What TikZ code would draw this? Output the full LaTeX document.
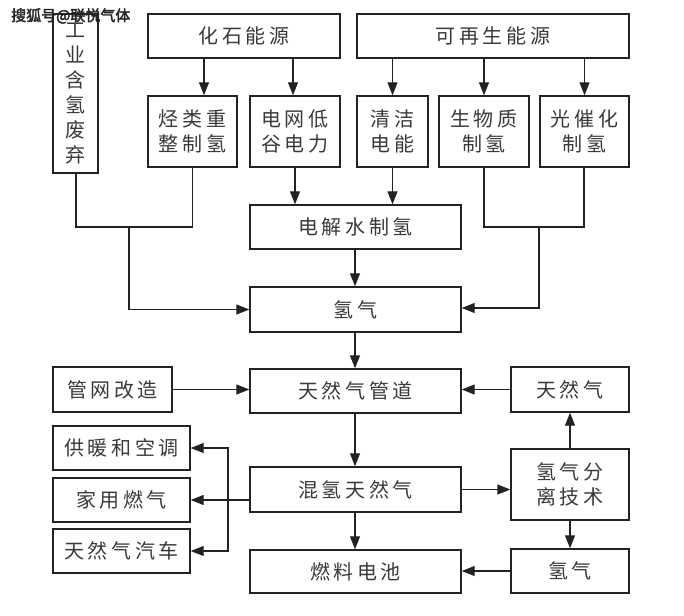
\documentclass[tikz,border=0pt]{standalone}
\usepackage{fontspec}
\setmainfont{Noto Sans CJK SC}
\newfontfamily\cjk[LetterSpace=18]{Noto Sans CJK SC}
\newfontfamily\wmfont[FakeBold=2.5]{Noto Sans CJK SC}
\usetikzlibrary{arrows.meta}
\definecolor{ink}{HTML}{222222}
\definecolor{txt}{HTML}{3A3A3A}
\tikzset{
  x=1pt,y=-1pt,
  box/.style={draw=ink,line width=1.4pt,inner sep=0pt,align=center,
    text=txt,font=\cjk\fontsize{20}{25}\selectfont},
  conn/.style={draw=ink,line width=1.2pt},
  arr/.style={conn,-{Triangle[length=13pt,width=10pt]}},
}
\newcommand{\bx}[7]{% name, x1, x2, y1, y2, text
  \node[box,minimum width={#3-#2},minimum height={#5-#4}] (#1) at ({(#2+#3)/2},{(#4+#5)/2}) {#6};}
\begin{document}
\begin{tikzpicture}
\useasboundingbox[fill=white] (0,0) rectangle (684,615);
% top row
\bx{gy}{53}{98}{14}{173}{工\\业\\含\\氢\\废\\弃}{}
\bx{hs}{148}{340}{14}{58}{化石能源}{}
\bx{kz}{357}{629}{14}{58}{可再生能源}{}
% second row
\bx{tl}{148}{237}{96}{167}{烃类重\\整制氢}{}
\bx{dw}{250}{340}{96}{167}{电网低\\谷电力}{}
\bx{qj}{357}{428}{96}{167}{清洁\\电能}{}
\bx{sw}{439}{529}{96}{167}{生物质\\制氢}{}
\bx{gc}{540}{629}{96}{167}{光催化\\制氢}{}
% middle column
\bx{dj}{250}{461}{205}{249}{电解水制氢}{}
\bx{qq}{250}{461}{287}{332}{氢气}{}
\bx{td}{250}{461}{369}{413}{天然气管道}{}
\bx{hq}{250}{461}{467}{512}{混氢天然气}{}
\bx{rl}{250}{461}{550}{593}{燃料电池}{}
% left column
\bx{gw}{53}{172}{367}{412}{管网改造}{}
\bx{gn}{53}{190}{426}{470}{供暖和空调}{}
\bx{jy}{53}{190}{478}{522}{家用燃气}{}
\bx{tc}{53}{190}{529}{573}{天然气汽车}{}
% right column
\bx{tr}{511}{629}{367}{412}{天然气}{}
\bx{fl}{511}{629}{449}{520}{氢气分\\离技术}{}
\bx{qr}{511}{629}{549}{593}{氢气}{}
% watermark
\node[anchor=west,inner sep=0pt,text=black!85,font=\wmfont\fontsize{15}{15}\selectfont] (wm) at (11,16) {搜狐号@联悦气体};
% arrows from top sources
\draw[arr] ([xshift=11.5pt]tl.north |- hs.south) -- ([xshift=11.5pt]tl.north);
\draw[arr] ([xshift=-2pt]dw.north |- hs.south) -- ([xshift=-2pt]dw.north);
\draw[arr] (qj.north |- kz.south) -- (qj.north);
\draw[arr] (sw.north |- kz.south) -- (sw.north);
\draw[arr] (gc.north |- kz.south) -- (gc.north);
% to electrolysis
\draw[arr] (dw.south) -- (dw.south |- dj.north);
\draw[arr] (qj.south) -- (qj.south |- dj.north);
\draw[arr] ([xshift=-0.5pt]dj.south) -- ([xshift=-0.5pt]qq.north);
% left merge
\coordinate (lm) at (129,227);
\draw[conn] ([xshift=0.5pt]gy.south) |- (lm) -| (tl.south);
\draw[arr] (lm) |- (qq.west);
% right merge
\coordinate (rm) at (539,227);
\draw[conn] (sw.south) |- (rm) -| ([xshift=-0.5pt]gc.south);
\draw[arr] (rm) |- ([yshift=1.5pt]qq.east);
% lower part
\draw[arr] ([xshift=-0.5pt]qq.south) -- ([xshift=-0.5pt]td.north);
\draw[arr] (gw.east) -- (gw.east -| td.west);
\draw[arr] (tr.west) -- (tr.west -| td.east);
\draw[arr] ([xshift=-0.5pt]td.south) -- ([xshift=-0.5pt]hq.north);
\draw[arr] ([xshift=-0.5pt]hq.south) -- ([xshift=-0.5pt]rl.north);
\draw[arr] (hq.east) -- (hq.east -| fl.west);
\draw[arr] (fl.north) -- (tr.south);
\draw[arr] (fl.south) -- (qr.north);
\draw[arr] (qr.west) -- (qr.west -| rl.east);
% distribution bus
\coordinate (bus) at (228,500);
\draw[arr] (jy.east -| hq.west) -- (jy.east);
\draw[arr] (bus) |- (gn.east);
\draw[arr] (bus) |- (tc.east);
\end{tikzpicture}
\end{document}
